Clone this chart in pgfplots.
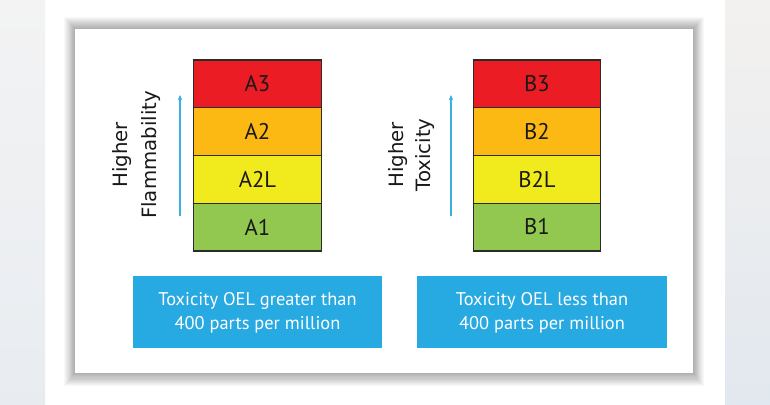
\documentclass[border=0pt]{standalone}
\usepackage{pgfplots}
\pgfplotsset{compat=1.18}
\usetikzlibrary{arrows.meta}
\usepackage{fontspec}
\setmainfont{PT Sans}
\newfontfamily\dejavu{DejaVu Sans}
\definecolor{cRed}{HTML}{EC1C24}
\definecolor{cOrange}{HTML}{FDB913}
\definecolor{cYellow}{HTML}{F1EA1C}
\definecolor{cGreen}{HTML}{92C84F}
\definecolor{cBlue}{HTML}{27A9E1}
\definecolor{cArrow}{HTML}{3CB0E0}
\definecolor{cEdge}{HTML}{2B2B2B}
\definecolor{cSideTopL}{HTML}{F3F3F3}
\definecolor{cSideBotL}{HTML}{E8ECF1}
\definecolor{cSideTopR}{HTML}{F3F1EF}
\definecolor{cSideBotR}{HTML}{E2E8EF}
\begin{document}
\begin{tikzpicture}
% 1 px = 0.75pt; origin bottom-left
\begin{scope}[x=0.75pt, y=0.75pt]
\fill[white] (0,0) rectangle (770,404);
\shade[top color=cSideTopL, bottom color=cSideBotL] (0,0) rectangle (45,404);
\shade[top color=cSideTopR, bottom color=cSideBotR] (725,0) rectangle (770,404);
\foreach \i in {1,...,12}{
  \fill[black, opacity=0.026] ({75-\i*0.9},{31-\i*1.1}) rectangle ({693+\i*0.9},{375+\i});
}
\fill[white] (75,31) rectangle (693,375);
\fill[cBlue] (133,56) rectangle (382,128);
\fill[cBlue] (417,56) rectangle (667,128);
\end{scope}
\begin{axis}[
  at={(0pt,0pt)}, anchor=south west,
  width=577.5pt, height=303pt, scale only axis,
  xmin=0, xmax=770, ymin=0, ymax=404,
  hide axis, clip=false,
  ybar stacked, bar width=127.5,
]
\addplot[draw=none, fill=none] coordinates {(257.5,153) (537,153)};
\addplot[draw=cEdge, line width=0.8pt, fill=cGreen]  coordinates {(257.5,47.75) (537,47.75)};
\addplot[draw=cEdge, line width=0.8pt, fill=cYellow] coordinates {(257.5,47.75) (537,47.75)};
\addplot[draw=cEdge, line width=0.8pt, fill=cOrange] coordinates {(257.5,47.75) (537,47.75)};
\addplot[draw=cEdge, line width=0.8pt, fill=cRed]    coordinates {(257.5,47.75) (537,47.75)};
\end{axis}
\begin{scope}[x=0.75pt, y=0.75pt]
\begin{scope}[every node/.style={font=\fontsize{17}{20}\selectfont, text=black!90}]
\node at (257.5,177) {A1};
\node at (257.5,224.5) {A2L};
\node at (257.5,272.5) {A2};
\node at (257.5,320) {A3};
\node at (537,177) {B1};
\node at (537,224.5) {B2L};
\node at (537,272.5) {B2};
\node at (537,320) {B3};
\end{scope}
\draw[cArrow, line width=1.1pt, -{Stealth[length=4pt,width=3.5pt]}] (180,188) -- (180,309);
\draw[cArrow, line width=1.1pt, -{Stealth[length=4pt,width=3.5pt]}] (451,188) -- (451,309);
\begin{scope}[every node/.style={rotate=90, font=\dejavu\fontsize{14.8}{17}\selectfont, text=black!90}]
\node at (122,249) {Higher};
\node at (151,249) {Flammability};
\node at (398,249) {Higher};
\node at (425,249) {Toxicity};
\end{scope}
\begin{scope}[every node/.style={font=\fontsize{13.8}{16}\selectfont, text=white}]
\node at (257.5,103) {Toxicity OEL greater than};
\node at (257.5,79) {400 parts per million};
\node at (542,103) {Toxicity OEL less than};
\node at (542,79) {400 parts per million};
\end{scope}
\end{scope}
\end{tikzpicture}
\end{document}
